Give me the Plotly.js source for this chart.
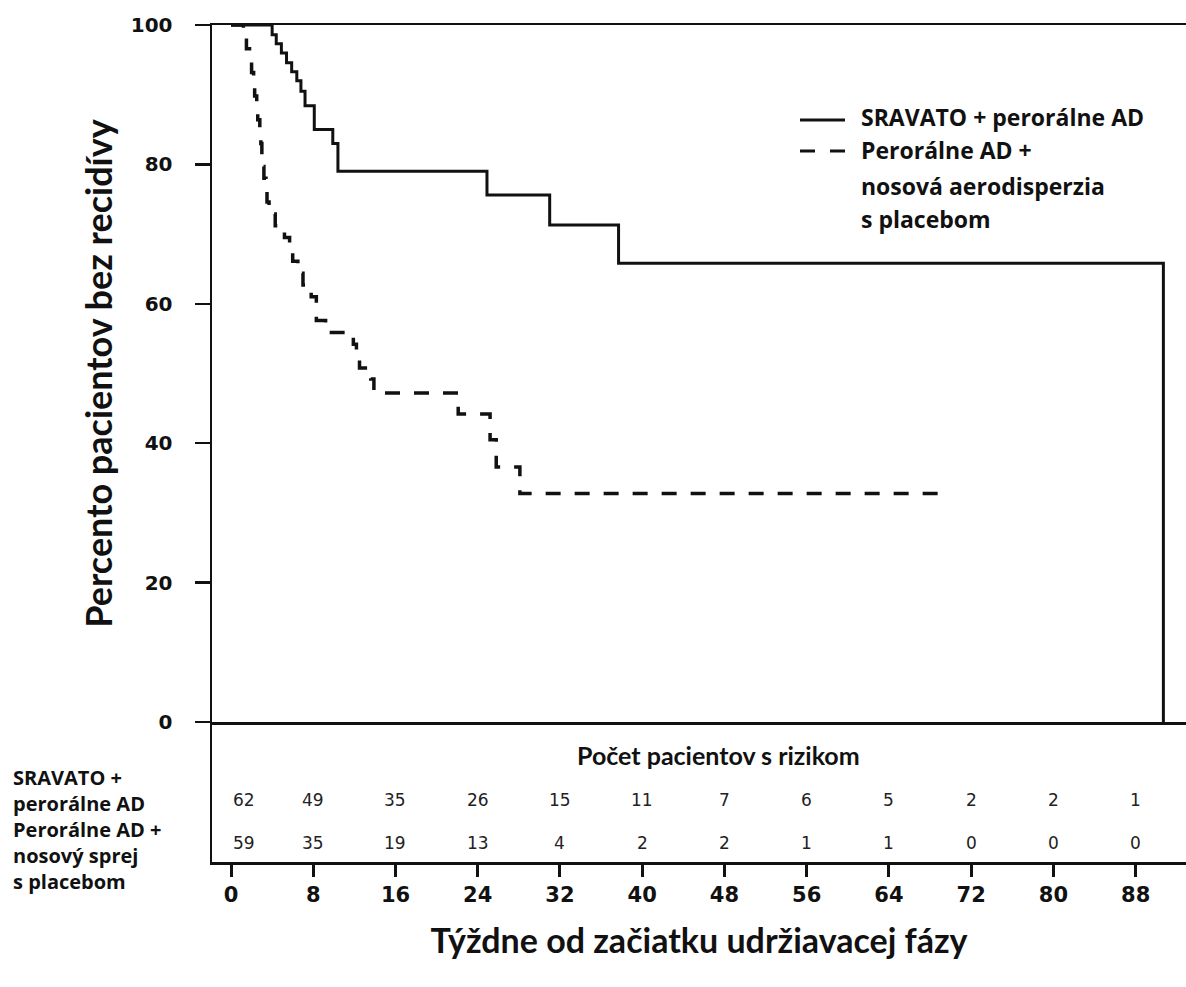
<!DOCTYPE html>
<html><head><meta charset="utf-8">
<script src="https://cdn.plot.ly/plotly-3.0.1.min.js"></script>
<style>html,body{margin:0;padding:0;background:#fff}</style>
</head><body><div id="chart" style="width:1186px;height:987px"></div>
<script>
// ---- data ----
const weekTicks = [0, 8, 16, 24, 32, 40, 48, 56, 64, 72, 80, 88];
const yTicks = [0, 20, 40, 60, 80, 100];

const sravatoName = "SRAVATO + perorálne AD";
const sravatoWeeks = [0, 4.0, 4.4, 4.9, 5.4, 5.9, 6.4, 6.8, 7.2, 8.1, 9.9, 10.4, 24.9, 31.0, 37.7, 90.7];
const sravatoPct   = [100, 98.6, 97.3, 96.0, 94.6, 93.3, 92.0, 90.5, 88.4, 85.0, 83.0, 79.0, 75.6, 71.3, 65.8, 0];

const placeboName = "Perorálne AD + nosová aerodisperzia s placebom";
const placeboWeeks = [0, 1.2, 1.5, 1.8, 2.0, 2.2, 2.3, 2.5, 2.6, 2.8, 2.9, 3.0, 3.1, 3.2, 3.4, 3.5, 3.7, 4.3, 5.2, 5.7, 6.0, 6.5, 7.0, 7.8, 8.3, 9.2, 11.9, 12.2, 12.5, 13.6, 13.9, 22.1, 25.2, 25.8, 28.1, 70.0];
const placeboPct   = [100, 98.3, 96.6, 94.9, 93.2, 91.5, 89.8, 88.1, 86.4, 84.7, 83.0, 81.4, 79.7, 78.0, 76.3, 74.6, 72.9, 71.2, 69.5, 67.8, 66.1, 64.4, 62.7, 61.0, 57.6, 55.9, 54.2, 52.5, 50.8, 49.2, 47.2, 44.2, 40.5, 36.6, 32.8, 32.8];

const riskSravato = [62, 49, 35, 26, 15, 11, 7, 6, 5, 2, 2, 1];
const riskPlacebo = [59, 35, 19, 13, 4, 2, 2, 1, 1, 0, 0, 0];

const rowLabelLines = ["SRAVATO +", "perorálne AD", "Perorálne AD +", "nosový sprej", "s placebom"];
const legendLines1 = ["SRAVATO + perorálne AD"];
const legendLines2 = ["Perorálne AD +", "nosová aerodisperzia", "s placebom"];

const yTitle = "Percento pacientov bez recidívy";
const xTitle = "Týždne od začiatku udržiavacej fázy";
const riskTitle = "Počet pacientov s rizikom";

// ---- geometry helpers (pixel -> paper) ----
const L = 212, R = 0, T = 25, B = 125, W = 1186, H = 987;
const pw = W - L - R, ph = H - T - B;
const px = x => (x - L) / pw;
const py = y => (H - B - y) / ph;
const splitY = py(722);

const ink = "#111";
const titleFont = {family: "Lato, 'Open Sans', sans-serif", color: ink, weight: 700};
const labelFont = {family: "'Open Sans', 'Noto Sans', sans-serif", color: ink, weight: 700, size: 20};
const legendFont = {family: "'Open Sans', 'Noto Sans', sans-serif", color: ink, weight: 700, size: 23};
const tickFontY = {family: "'DejaVu Sans', 'Liberation Sans', sans-serif", color: ink, size: 20, weight: 700};
const tickFontX = {family: "'DejaVu Sans', 'Liberation Sans', sans-serif", color: ink, size: 21, weight: 700};
const riskFont = {family: "'DejaVu Sans', 'Liberation Sans', sans-serif", size: 17, color: "#222"};

const traces = [
  {x: sravatoWeeks, y: sravatoPct, name: sravatoName, type: "scatter", mode: "lines",
   line: {shape: "hv", color: ink, width: 3}, xaxis: "x", yaxis: "y", cliponaxis: false},
  {x: placeboWeeks, y: placeboPct, name: placeboName, type: "scatter", mode: "lines",
   line: {shape: "hv", color: ink, width: 3.5, dash: "15px,14px"}, xaxis: "x", yaxis: "y", cliponaxis: false}
];

const annotations = [];
weekTicks.forEach((w, i) => {
  annotations.push({x: w, y: 0.443, xref: "x2", yref: "y2", text: String(riskSravato[i]), showarrow: false,
    xshift: i === 0 ? 13 : 0, font: riskFont});
  annotations.push({x: w, y: 0.136, xref: "x2", yref: "y2", text: String(riskPlacebo[i]), showarrow: false,
    xshift: i === 0 ? 13 : 0, font: riskFont});
});
annotations.push({x: 0.5, y: 0.764, xref: "x2 domain", yref: "y2", text: riskTitle, showarrow: false,
  xshift: 19, font: Object.assign({}, titleFont, {size: 25})});
// row labels of the risk table: one block, lines stacked
annotations.push({x: px(12), y: py(829), xref: "paper", yref: "paper",
  text: rowLabelLines.join("<br>"), showarrow: false, xanchor: "left", yanchor: "middle", align: "left",
  borderpad: 0, font: labelFont});
// legend texts
const legYs1 = [117], legYs2 = [150, 186, 219];
legendLines1.forEach((t, i) => annotations.push({x: px(860), y: py(legYs1[i]), xref: "paper", yref: "paper",
  text: t, showarrow: false, xanchor: "left", yanchor: "middle", borderpad: 0, font: legendFont}));
legendLines2.forEach((t, i) => annotations.push({x: px(860), y: py(legYs2[i]), xref: "paper", yref: "paper",
  text: t, showarrow: false, xanchor: "left", yanchor: "middle", borderpad: 0, font: legendFont}));

const shapes = [
  {type: "line", xref: "paper", yref: "paper", x0: px(800), x1: px(845), y0: py(120), y1: py(120), line: {color: ink, width: 3}},
  {type: "line", xref: "paper", yref: "paper", x0: px(800), x1: px(845), y0: py(151), y1: py(151), line: {color: ink, width: 3, dash: "15px,15px"}}
];

const axisCommon = {showgrid: false, zeroline: false, showline: true, linecolor: ink, linewidth: 2.5};
const xRange = [-1.85, 92.9];

const layout = {
  width: W, height: H,
  margin: {l: L, r: R, t: T, b: B, pad: 0},
  paper_bgcolor: "#fff", plot_bgcolor: "#fff",
  showlegend: false,
  xaxis: Object.assign({}, axisCommon, {domain: [0, 1], range: xRange, anchor: "y", mirror: true,
    showticklabels: false, ticks: ""}),
  yaxis: Object.assign({}, axisCommon, {domain: [splitY, 1], range: [0, 100], anchor: "x",
    tickvals: yTicks, ticks: "outside", ticklen: 15, tickwidth: 2.5, tickcolor: ink,
    ticklabelstandoff: 18, tickfont: tickFontY,
    title: {text: yTitle, font: Object.assign({}, titleFont, {size: 36}), standoff: 7}}),
  xaxis2: Object.assign({}, axisCommon, {domain: [0, 1], range: xRange, anchor: "y2",
    tickvals: weekTicks, ticks: "outside", ticklen: 12, tickwidth: 3, tickcolor: ink,
    ticklabelstandoff: 0, tickfont: tickFontX,
    title: {text: xTitle, font: Object.assign({}, titleFont, {size: 34}), standoff: 24}}),
  yaxis2: Object.assign({}, axisCommon, {domain: [0, splitY], range: [0, 1], anchor: "x2",
    showticklabels: false, ticks: ""}),
  annotations: annotations,
  shapes: shapes
};

Plotly.newPlot("chart", traces, layout, {displayModeBar: false, staticPlot: true});
</script>
</body></html>
